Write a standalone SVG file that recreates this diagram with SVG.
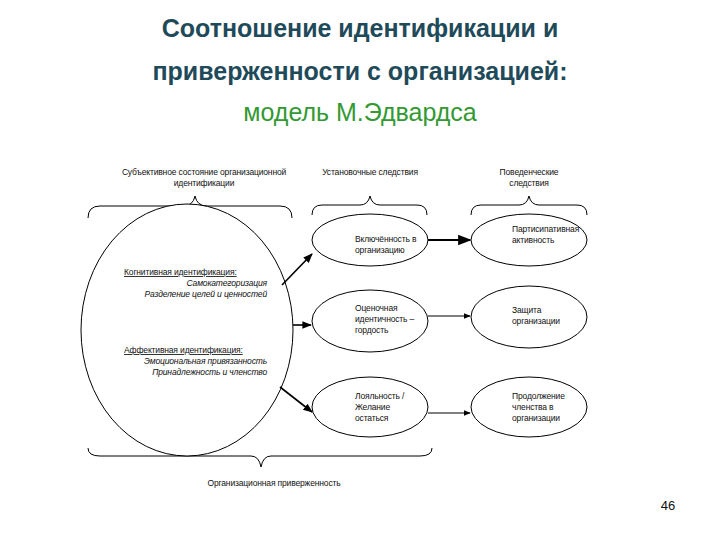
<svg xmlns="http://www.w3.org/2000/svg" width="720" height="540" viewBox="0 0 720 540">
<defs>
<style>
.t{font-family:"Liberation Sans",Arial,sans-serif;fill:#111}
.s{font-size:8.5px;letter-spacing:-0.15px}
.i{font-style:italic}
.n{fill:#fff;stroke:#000;stroke-width:1}
.b{fill:none;stroke:#000;stroke-width:1}
.c{stroke:#000;stroke-width:1.6;fill:none;marker-end:url(#a)}
</style>
<marker id="a" viewBox="0 0 10 10" refX="9" refY="5" markerWidth="6" markerHeight="6" orient="auto"><path d="M0,1 L10,5 L0,9 z" fill="#000"/></marker>
</defs>
<rect width="720" height="540" fill="#fff"/>
<text class="t" x="360" y="37" text-anchor="middle" font-size="25" font-weight="bold" style="fill:#1f4a5a">Соотношение идентификации и</text>
<text class="t" x="360" y="80" text-anchor="middle" font-size="25" font-weight="bold" style="fill:#1f4a5a">приверженности с организацией:</text>
<text class="t" x="360" y="121" text-anchor="middle" font-size="25" style="fill:#339933">модель М.Эдвардса</text>
<text class="t s" x="204" y="175" text-anchor="middle">Субъективное состояние организационной</text>
<text class="t s" x="204" y="186" text-anchor="middle">идентификации</text>
<text class="t s" x="370" y="175" text-anchor="middle">Установочные следствия</text>
<text class="t s" x="529" y="175" text-anchor="middle">Поведенческие</text>
<text class="t s" x="529" y="186" text-anchor="middle">следствия</text>
<g id="braces">
<path class="b" d="M88,218 Q88,206 100,206 L183,206 Q193,206 195,196 Q197,206 207,206 L280,206 Q292,206 292,218"/>
<path class="b" d="M312,215 Q312,205 322,205 L360,205 Q368,205 370,196 Q372,205 380,205 L417,205 Q427,205 427,215"/>
<path class="b" d="M471,215 Q471,205 481,205 L519,205 Q527,205 529,196 Q531,205 539,205 L577,205 Q587,205 587,215"/>
<path class="b" d="M88,448 Q88,456 100,456 L251,456 Q259,456 261,467 Q263,456 271,456 L420,456 Q432,456 432,448"/>
</g>
<g id="n-circle"><ellipse class="n" cx="187" cy="330" rx="106" ry="126"/>
<text class="t s" x="124" y="275" text-decoration="underline">Когнитивная идентификация:</text>
<text class="t s i" x="267" y="286" text-anchor="end">Самокатегоризация</text>
<text class="t s i" x="267" y="297" text-anchor="end">Разделение целей и ценностей</text>
<text class="t s" x="124" y="353" text-decoration="underline">Аффективная идентификация:</text>
<text class="t s i" x="267" y="364" text-anchor="end">Эмоциональная привязанность</text>
<text class="t s i" x="267" y="375" text-anchor="end">Принадлежность и членство</text></g>
<g id="n-m1"><ellipse class="n" cx="370" cy="240" rx="58" ry="26"/><text class="t s" x="355" y="242">Включённость в</text><text class="t s" x="355" y="253">организацию</text></g>
<g id="n-m2"><ellipse class="n" cx="370" cy="321" rx="58" ry="31"/><text class="t s" x="355" y="311">Оценочная</text><text class="t s" x="355" y="322">идентичность –</text><text class="t s" x="355" y="333">гордость</text></g>
<g id="n-m3"><ellipse class="n" cx="370" cy="407" rx="58" ry="30"/><text class="t s" x="355" y="399">Лояльность /</text><text class="t s" x="355" y="410">Желание</text><text class="t s" x="355" y="421">остаться</text></g>
<g id="n-r1"><ellipse class="n" cx="529" cy="240" rx="58" ry="26"/><text class="t s" x="512" y="232">Партисипативная</text><text class="t s" x="512" y="243">активность</text></g>
<g id="n-r2"><ellipse class="n" cx="529" cy="317" rx="58" ry="31"/><text class="t s" x="512" y="313">Защита</text><text class="t s" x="512" y="324">организации</text></g>
<g id="n-r3"><ellipse class="n" cx="529" cy="407" rx="58" ry="30"/><text class="t s" x="512" y="399">Продолжение</text><text class="t s" x="512" y="410">членства в</text><text class="t s" x="512" y="421">организации</text></g>
<g id="connectors">
<path class="c" d="M282,285 L312,254"/>
<path class="c" d="M293,325 L311,325"/>
<path class="c" d="M280,387 L312,412"/>
<path class="c" d="M428,240 L470,240" style="stroke-width:2.2"/>
<path class="c" d="M428,316 L470,316" style="stroke-width:1.2"/>
<path class="c" d="M428,413 L470,413" style="stroke-width:1.2"/>
</g>
<text class="t s" x="274" y="486" text-anchor="middle">Организационная приверженность</text>
<text class="t" x="668" y="510" text-anchor="middle" font-size="13">46</text>
</svg>
